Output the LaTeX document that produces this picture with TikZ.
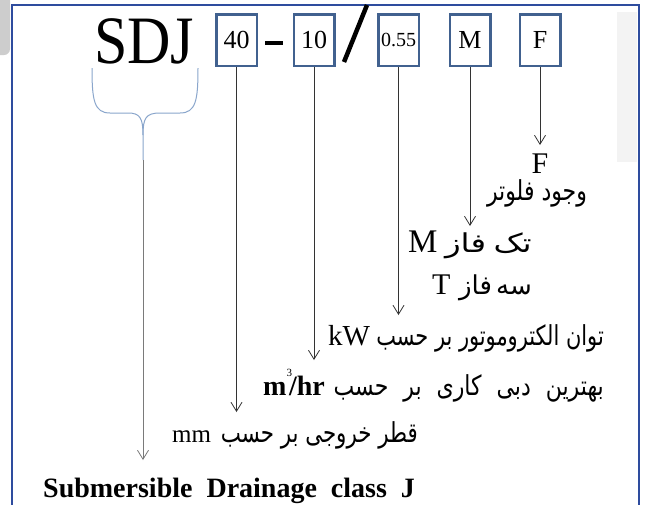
\documentclass[tikz,border=0pt]{standalone}
\usepackage{fontspec}
\setmainfont{Liberation Serif}
\newfontfamily\fa[Script=Arabic]{DejaVu Sans}
\TeXXeTstate=1
\usetikzlibrary{arrows.meta}
\definecolor{frameblue}{HTML}{2E4C9E}
\definecolor{boxblue}{HTML}{41618F}
\definecolor{bracecol}{HTML}{8AA6CC}
\definecolor{linecol}{HTML}{333333}
\definecolor{graycol}{HTML}{7A7A7A}
\definecolor{overlaygray}{HTML}{CDCDCD}
\definecolor{faintgray}{HTML}{F3F3F3}
\newcommand{\tall}[2][1]{\scalebox{#1}[1.25]{#2}}
\begin{document}
\begin{tikzpicture}[x=1pt,y=-1pt,
 codebox/.style={draw=boxblue,line width=2.5pt,minimum width=40.5pt,minimum height=51.5pt,inner sep=0pt,font=\fontsize{26}{26}\selectfont},
 conn/.style={draw=linecol,line width=0.8pt,-{Straight Barb[length=9pt,width=11pt]}},
 lat/.style={inner sep=0pt,font=\fontsize{30}{30}\selectfont},
 per/.style={inner sep=0pt,font=\fa\fontsize{22}{22}\selectfont}]
\useasboundingbox (0,0) rectangle (646,504);
\clip (0,0) rectangle (646,504);
\fill[white] (0,0) rectangle (646,504);
\fill[overlaygray,rounded corners=6pt] (-10,-10) rectangle (10,55);
\fill[faintgray] (617,12) rectangle (637,162);
\draw[frameblue,line width=2pt] (12,5) rectangle (639,530);
% code line
\node[anchor=base west,inner sep=0pt,font=\fontsize{60}{60}\selectfont] (sdj) at (94,63) {\scalebox{1}[1.13]{SDJ}};
\node[codebox] (b40) at (236.5,40) {40};
\node[inner sep=0pt] (dash) at (274,43) {\rule{18pt}{4pt}};
\node[codebox] (b10) at (314,40) {10};
\draw[line width=4.5pt] (344,62) -- (367,5);
\node[codebox,font=\fontsize{20}{20}\selectfont] (b055) at (398.5,40) {0.55};
\node[codebox] (bM) at (470,40) {M};
\node[codebox] (bF) at (540,40) {F};
% brace
\draw[bracecol,line width=1pt] (92,68) .. controls (92,100) and (94,113) .. (110,113) -- (128,113) .. controls (140,113) and (143,118) .. (143,135) -- (143,160);
\draw[bracecol,line width=1pt] (198,68) .. controls (198,100) and (196,113) .. (180,113) -- (160,113) .. controls (146,113) and (143,118) .. (143,135);
\coordinate (btip) at (143,160);
% labels
\node[lat,anchor=base] (lF) at (540,173) {F};
\node[per,anchor=base] (pF) at (537,200) {\tall{\beginR وجود فلوتر\endR}};
\node[lat,anchor=base west,font=\fontsize{33}{33}\selectfont] (lM) at (408,252) {M};
\node[per,anchor=base east,font=\fa\fontsize{26}{26}\selectfont] (pM) at (532,252) {\scalebox{1.25}[1]{\beginR تک\hspace{6pt}فاز\endR}};
\node[lat,anchor=base west] (lT) at (432,294) {T};
\node[per,anchor=base east,font=\fa\fontsize{26}{26}\selectfont] (pT) at (532,294) {\beginR سه\hspace{4pt}فاز\endR};
\node[lat,anchor=base west,font=\fontsize{29}{29}\selectfont] (lkW) at (328,345) {kW};
\node[per,anchor=base east] (pkW) at (604,345) {\tall[0.95]{\beginR توان الکتروموتور بر حسب\endR}};
\node[lat,anchor=base west,font=\bfseries\fontsize{28}{28}\selectfont] (lm3) at (263,395) {m\raisebox{19pt}{\mdseries\fontsize{11}{11}\selectfont 3}\kern-3pt/hr};
\node[per,anchor=base east] (pm3) at (604,395) {\tall{\beginR بهترین\hspace{8pt} دبی\hspace{8pt} کاری\hspace{8pt} بر\hspace{8pt} حسب\endR}};
\node[lat,anchor=base west,font=\fontsize{25}{25}\selectfont] (lmm) at (172,442) {mm};
\node[per,anchor=base east] (pmm) at (418,442) {\tall[0.97]{\beginR قطر خروجی بر حسب\endR}};
\node[lat,anchor=base west,font=\bfseries\fontsize{28}{28}\selectfont] (lsub) at (43,497) {Submersible\hspace{14pt}Drainage\hspace{14pt}class\hspace{14pt}J};
% connectors
\coordinate (eF) at (540,145);
\coordinate (eM) at (470,226);
\coordinate (e055) at (398.5,315);
\coordinate (e10) at (314,360);
\coordinate (e40) at (236.5,412);
\coordinate (eB) at (143,460);
\draw[conn] (bF.south) -- (eF);
\draw[conn] (bM.south) -- (eM);
\draw[conn] (b055.south) -- (e055);
\draw[conn] (b10.south) -- (e10);
\draw[conn] (b40.south) -- (e40);
\draw[conn,draw=graycol] (btip) -- (eB);
\end{tikzpicture}
\end{document}
